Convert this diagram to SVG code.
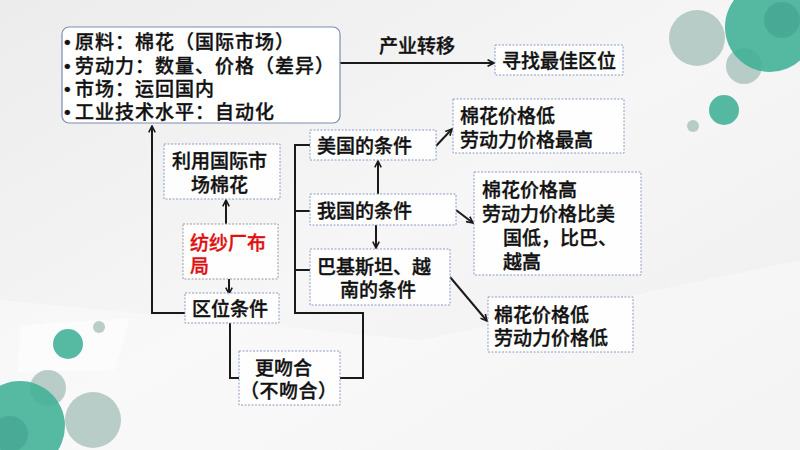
<svg xmlns="http://www.w3.org/2000/svg" width="800" height="450" viewBox="0 0 800 450">
<defs>
<marker id="arr" viewBox="0 0 10 10" refX="9" refY="5" markerWidth="8" markerHeight="8" markerUnits="userSpaceOnUse" orient="auto">
<path d="M1,1 L9,5 L1,9" fill="none" stroke="#1a1a1a" stroke-width="2"/>
</marker>
<linearGradient id="bg" x1="0" y1="0" x2="1" y2="1">
<stop offset="0" stop-color="#ececec"/>
<stop offset="0.5" stop-color="#f6f6f6"/>
<stop offset="1" stop-color="#eeeeee"/>
</linearGradient>
</defs>
<style>
text{font-family:"Noto Sans CJK SC","Liberation Sans",sans-serif;font-size:19px;font-weight:500;fill:#111;stroke:#111;stroke-width:0.35;}
.bul{font-family:"Liberation Sans",sans-serif;}
.box{fill:#ffffff;fill-opacity:0.85;stroke:#8a9cc4;stroke-width:1;stroke-dasharray:2 1.5;}
.gbox{fill:#ffffff;fill-opacity:0.85;stroke:#9a9a9a;stroke-width:1;stroke-dasharray:2 1.5;}
.main{fill:#ffffff;stroke:#7d8db3;stroke-width:1.2;}
.ln{fill:none;stroke:#1a1a1a;stroke-width:2;}
text.red{fill:#e01010;stroke:#e01010;}
.teal{fill:#3fb195;fill-opacity:0.88;}
.gray{fill:#a7c2bc;fill-opacity:0.8;}
</style>
<rect x="0" y="0" width="800" height="450" fill="url(#bg)"/>
<polygon points="0,300 420,340 800,260 800,450 0,450" fill="#ffffff" fill-opacity="0.35"/>
<polygon points="20,325 130,318 115,370 18,372" fill="#ffffff" fill-opacity="0.5"/>
<g id="decor">
<circle class="gray" cx="697" cy="38" r="28"/>
<circle class="gray" cx="744" cy="66" r="18"/>
<circle class="teal" cx="770" cy="27" r="45"/>
<circle cx="782" cy="20" r="18" fill="#3a9a84" fill-opacity="0.45"/>
<circle class="teal" cx="724" cy="110" r="15"/>
<circle class="gray" cx="693" cy="126" r="6"/>
<circle class="teal" cx="68" cy="344" r="15"/>
<circle class="gray" cx="99" cy="327" r="6"/>
<circle class="gray" cx="93" cy="420" r="28"/>
<circle class="gray" cx="48" cy="388" r="18"/>
<circle class="teal" cx="20" cy="426" r="45"/>
<circle cx="10" cy="434" r="18" fill="#3a9a84" fill-opacity="0.45"/>
</g>
<g id="connectors">
<path class="ln" d="M340,63 H494" marker-end="url(#arr)"/>
<path class="ln" d="M185,313 H152 V126" marker-end="url(#arr)"/>
<path class="ln" d="M226,224 V200" marker-end="url(#arr)"/>
<path class="ln" d="M229,279 V294" marker-end="url(#arr)"/>
<path class="ln" d="M230,323 V378 H239"/>
<path class="ln" d="M310,145 H295 V313 H363 V378 H340"/>
<path class="ln" d="M295,211 H310"/>
<path class="ln" d="M295,270 H310"/>
<path class="ln" d="M378,194 V161" marker-end="url(#arr)"/>
<path class="ln" d="M376,225 V248" marker-end="url(#arr)"/>
<path class="ln" d="M436,146 L452,129" marker-end="url(#arr)"/>
<path class="ln" d="M456,210 L473,223" marker-end="url(#arr)"/>
<path class="ln" d="M450,277 L487,321" marker-end="url(#arr)"/>
<text x="379" y="53">产业转移</text>
</g>
<g id="factors">
<rect class="main" x="62" y="27" width="278" height="96" rx="7"/>
<text font-size="20"><tspan class="bul" x="64" y="49">•</tspan><tspan x="75 95 115 135 155 175 195 215 235 255 275" y="49">原料：棉花（国际市场）</tspan><tspan class="bul" x="64" y="73">•</tspan><tspan x="75 95 115 135 155 175 195 215 235 255 275 295 315" y="73">劳动力：数量、价格（差异）</tspan><tspan class="bul" x="64" y="96">•</tspan><tspan x="75 95 115 135 155 175 195" y="96">市场：运回国内</tspan><tspan class="bul" x="64" y="119">•</tspan><tspan x="75 95 115 135 155 175 195 215 235 255" y="119">工业技术水平：自动化</tspan></text>
</g>
<g id="best">
<rect class="box" x="495" y="45" width="128" height="30"/>
<text x="502" y="68">寻找最佳区位</text>
</g>
<g id="use-cotton">
<rect class="box" x="164" y="144" width="116" height="55"/>
<text><tspan x="172" y="168">利用国际市</tspan><tspan x="191" y="192">场棉花</tspan></text>
</g>
<g id="textile">
<rect class="gbox" x="183" y="224" width="95" height="55"/>
<text class="red"><tspan x="190" y="250">纺纱厂布</tspan><tspan x="190" y="273">局</tspan></text>
</g>
<g id="location">
<rect class="box" x="185" y="293" width="94" height="30"/>
<text x="192" y="316">区位条件</text>
</g>
<g id="fit">
<rect class="box" x="239" y="351" width="101" height="54"/>
<text><tspan x="255" y="375">更吻合</tspan><tspan x="240 259.5 279 298.5 318" y="398">（不吻合）</tspan></text>
</g>
<g id="usa">
<rect class="box" x="310" y="130" width="126" height="30"/>
<text x="317" y="153">美国的条件</text>
</g>
<g id="china">
<rect class="box" x="310" y="194" width="146" height="31"/>
<text x="317" y="218">我国的条件</text>
</g>
<g id="pak">
<rect class="box" x="310" y="249" width="140" height="56"/>
<text><tspan x="317 336 355 374 393 412" y="274">巴基斯坦、越</tspan><tspan x="340" y="297">南的条件</tspan></text>
</g>
<g id="usa-cond">
<rect class="box" x="453" y="99" width="171" height="54"/>
<text><tspan x="460" y="123">棉花价格低</tspan><tspan x="460" y="147">劳动力价格最高</tspan></text>
</g>
<g id="china-cond">
<rect class="box" x="474" y="172" width="167" height="103"/>
<text><tspan x="482" y="197">棉花价格高</tspan><tspan x="482" y="221">劳动力价格比美</tspan><tspan x="503 522 541 560 579 598" y="245">国低，比巴、</tspan><tspan x="503" y="269">越高</tspan></text>
</g>
<g id="pak-cond">
<rect class="box" x="488" y="297" width="145" height="55"/>
<text><tspan x="494" y="322">棉花价格低</tspan><tspan x="494" y="345">劳动力价格低</tspan></text>
</g>
</svg>
